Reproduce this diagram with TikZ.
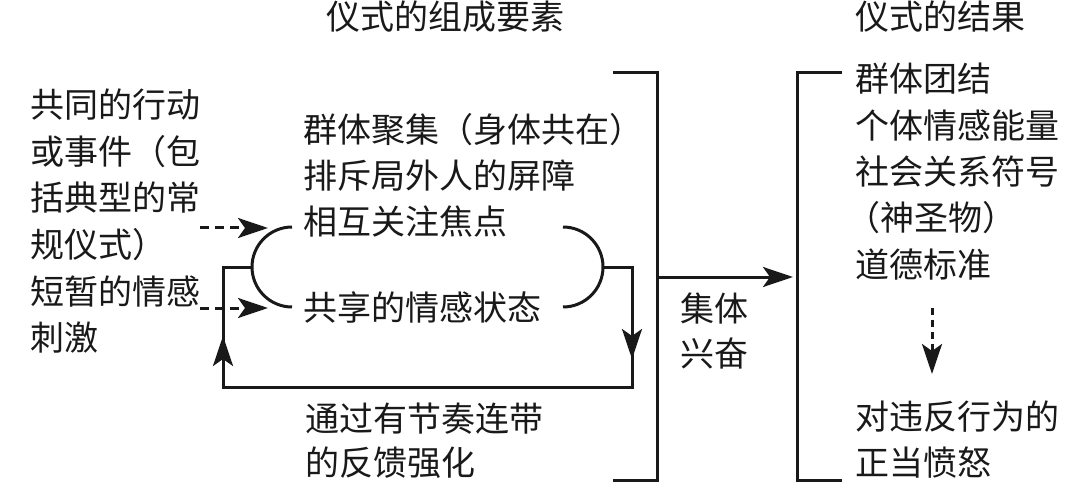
\documentclass[tikz,border=0pt]{standalone}
\usepackage{fontspec}
\setmainfont{Noto Sans CJK SC}
\usetikzlibrary{arrows.meta}
\begin{document}
\begin{tikzpicture}[x=1pt,y=-1pt,
  txt/.style={anchor=west, inner sep=0pt, text height=30pt, text depth=4pt,
              font=\fontsize{34}{40}\selectfont, text=black!90},
  ln/.style={line width=3pt, draw=black!90, line join=miter},
  tip/.style={-{Stealth[length=30pt,width=20pt,inset=7pt]}},
  dsh/.style={dash pattern=on 9pt off 6pt}]
\useasboundingbox (0,0) rectangle (1080,492);
% titles
\node[txt] (t1) at (326,17) {仪式的组成要素};
\node[txt] (t2) at (855,17) {仪式的结果};
% left inputs
\node[txt] (a1) at (30,105) {共同的行动};
\node[txt] (a2) at (30,151.5) {或事件（包};
\node[txt] (a3) at (30,198) {括典型的常};
\node[txt] (a4) at (30,244.5) {规仪式）};
\node[txt] (a5) at (30,291) {短暂的情感};
\node[txt] (a6) at (30,337) {刺激};
% middle ingredients
\node[txt] (m1) at (303,130) {群体聚集（身体共在）};
\node[txt] (m2) at (303,176) {排斥局外人的屏障};
\node[txt] (m3) at (303,222) {相互关注焦点};
\node[txt] (m4) at (303,307) {共享的情感状态};
\node[txt] (b1) at (305,418) {通过有节奏连带};
\node[txt] (b2) at (305,462) {的反馈强化};
% collective effervescence
\node[txt] (c1) at (680,308) {集体};
\node[txt] (c2) at (680,353) {兴奋};
% outcomes
\node[txt] (r1) at (855,79) {群体团结};
\node[txt] (r2) at (855,126) {个体情感能量};
\node[txt] (r3) at (855,172) {社会关系符号};
\node[txt] (r4) at (846,217) {（神圣物）};
\node[txt] (r5) at (855,264) {道德标准};
\node[txt] (r6) at (855,416) {对违反行为的};
\node[txt] (r7) at (855,462) {正当愤怒};
% coordinates
\coordinate (la) at (292,227);
\coordinate (lm) at (252,267);
\coordinate (ra) at (563,227);
\coordinate (rm) at (603,267);
\coordinate (fl) at (223,267);
\coordinate (fbl) at (223,387);
\coordinate (fbr) at (632,387);
\coordinate (fr) at (632,267);
\coordinate (d1s) at (200,228);
\coordinate (d1e) at (268,228);
\coordinate (d2s) at (200,308);
\coordinate (d2e) at (268,308);
\coordinate (lbt) at (613,73);
\coordinate (lbtr) at (657,73);
\coordinate (lbbr) at (657,480);
\coordinate (lbb) at (613,480);
\coordinate (rbt) at (842,73);
\coordinate (rbtl) at (797,73);
\coordinate (rbbl) at (797,480);
\coordinate (rbb) at (842,480);
\coordinate (ms) at (657,277);
\coordinate (me) at (793,277);
\coordinate (vs) at (932,308);
\coordinate (ve) at (932,374);
% arcs
\draw[ln] (la) arc[start angle=270, end angle=90, radius=40];
\draw[ln] (ra) arc[start angle=270, end angle=450, radius=40];
% feedback loop
\draw[ln] (rm) -- (fr) -- (fbr) -- (fbl) -- (fl) -- (lm);
\draw[ln,tip] (fr) -- (632,359);
\draw[ln,tip] (fbl) -- (223,336);
% dashed inputs
\draw[ln,dsh,tip] (d1s) -- (d1e);
\draw[ln,dsh,tip] (d2s) -- (d2e);
% brackets
\draw[ln] (lbt) -- (lbtr) -- (lbbr) -- (lbb);
\draw[ln] (rbt) -- (rbtl) -- (rbbl) -- (rbb);
% main arrow
\draw[ln,tip] (ms) -- (me);
% dashed outcome arrow
\draw[ln,dash pattern=on 7pt off 5pt,tip] (vs) -- (ve);
\end{tikzpicture}
\end{document}
